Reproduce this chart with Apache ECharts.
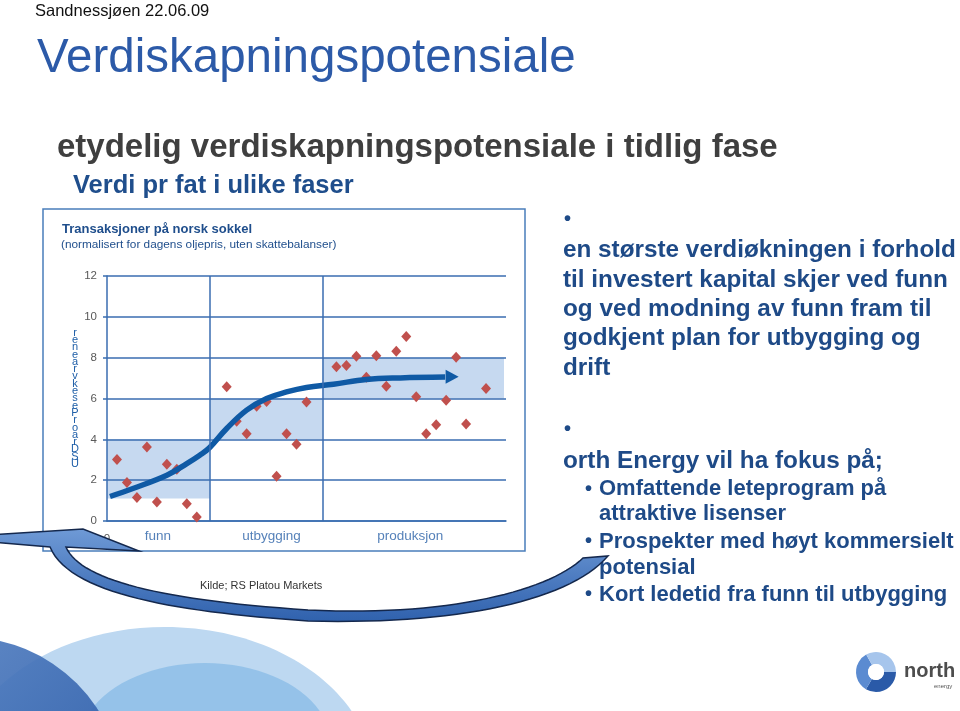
<!DOCTYPE html>
<html>
<head>
<meta charset="utf-8">
<script src="https://cdn.jsdelivr.net/npm/echarts@6/dist/echarts.min.js"></script>
<style>
  html, body { margin: 0; padding: 0; background: #ffffff; }
  #chart { width: 960px; height: 711px; }
</style>
</head>
<body>
<div id="chart"></div>
<script>
// ---- data ----
const categories = ['funn', 'utbygging', 'produksjon'];
const categoryLabelX = [5.1, 16.5, 30.4];
const phaseBounds = [0, 10.3, 21.6, 39.8];
const bandLow = [1.1, 4, 6];
const bandHigh = [4, 6, 8];
const transX = [1, 2, 3, 4, 5, 6, 7, 8, 9, 12, 13, 14, 15, 16, 17, 18, 19, 20, 23, 24, 25, 26, 27, 28, 29, 30, 31, 32, 33, 34, 35, 36, 38];
const transY = [3.01, 1.88, 1.15, 3.63, 0.93, 2.78, 2.53, 0.85, 0.2, 6.57, 4.89, 4.27, 5.62, 5.85, 2.19, 4.27, 3.76, 5.83, 7.55, 7.62, 8.07, 7.04, 8.1, 6.6, 8.32, 9.04, 6.08, 4.27, 4.71, 5.92, 8.02, 4.75, 6.49];
const curveX = [0.3, 2.6, 6, 8, 9.3, 10.3, 12, 14, 16, 18, 20, 22.7, 26, 29.4, 33.9];
const curveY = [1.2, 1.59, 2.24, 2.81, 3.22, 3.6, 4.53, 5.43, 6.0, 6.32, 6.54, 6.7, 6.93, 7.01, 7.05];
const arrowHead = [34.6, 7.06];
const yMin = 0, yMax = 12, yStep = 2;
const xMin = 0, xMax = 40;
const yAxisNameGlyphs = ['r','e','n','e','a','r','v','k','e','s','e','P','r','o','a','r','D','S','U'];

const FONT = '"Liberation Sans", Arial, sans-serif';
const GRID = '#3a6db0';

const chart = echarts.init(document.getElementById('chart'), null, { renderer: 'canvas' });

function txt(x, y, text, size, color, weight, align, z) {
  return {
    type: 'text', x: x, y: y, z: z || 10,
    style: {
      text: text, fill: color,
      font: (weight || 'normal') + ' ' + size + 'px ' + FONT,
      textAlign: align || 'left', textVerticalAlign: 'middle', verticalAlign: 'middle'
    }
  };
}

// sample a cubic bezier into points (decorative shape outline)
function cubic(p0, p1, p2, p3, n) {
  const pts = [];
  for (let i = 1; i <= n; i++) {
    const t = i / n, u = 1 - t;
    pts.push([
      u * u * u * p0[0] + 3 * u * u * t * p1[0] + 3 * u * t * t * p2[0] + t * t * t * p3[0],
      u * u * u * p0[1] + 3 * u * u * t * p1[1] + 3 * u * t * t * p2[1] + t * t * t * p3[1]
    ]);
  }
  return pts;
}
const arrowPts = [[-57, 538], [83, 529], [139, 551], [66, 547]]
  .concat(cubic([66, 547], [80, 580], [160, 600], [308, 610], 30))
  .concat(cubic([308, 610], [450, 617], [550, 590], [583, 558], 30))
  .concat([[608, 556]])
  .concat(cubic([608, 556], [570, 600], [460, 625], [308, 621], 30))
  .concat(cubic([308, 621], [180, 612], [70, 595], [50, 547], 30));

const bandAreas = categories.map((c, i) => [
  { xAxis: phaseBounds[i], yAxis: bandLow[i] },
  { xAxis: phaseBounds[i + 1], yAxis: bandHigh[i] }
]);

const option = {
  backgroundColor: '#ffffff',
  animation: false,
  grid: { left: 107, top: 276, width: 399, height: 245 },
  xAxis: {
    type: 'value', min: xMin, max: xMax, interval: 10, z: 2,
    axisLine: { show: true, lineStyle: { color: GRID, width: 1.5 } },
    axisTick: { show: false },
    splitLine: { show: false },
    axisLabel: { formatter: v => (v === 0 ? '0' : ''), color: '#595959', fontSize: 11.5, fontFamily: FONT, margin: 12 }
  },
  yAxis: {
    type: 'value', min: yMin, max: yMax, interval: yStep, z: 2,
    axisLine: { show: true, lineStyle: { color: GRID, width: 1.5 } },
    axisTick: { show: true, length: 4, lineStyle: { color: GRID, width: 1.5 } },
    splitLine: { show: true, lineStyle: { color: GRID, width: 1.5 } },
    axisLabel: { color: '#595959', fontSize: 11.5, fontFamily: FONT, margin: 10 }
  },
  series: [
    {
      name: 'bands', type: 'scatter', data: [], z: 1, silent: true,
      markArea: { silent: true, itemStyle: { color: '#c6d9f0', opacity: 1 }, data: bandAreas }
    },
    {
      name: 'phaseLines', type: 'line', data: [], z: 2, silent: true,
      markLine: {
        silent: true, symbol: ['none', 'none'], label: { show: false },
        lineStyle: { color: GRID, width: 1.5, type: 'solid' },
        data: phaseBounds.slice(1, 3).map(v => ({ xAxis: v }))
      }
    },
    {
      name: 'Transaksjoner', type: 'scatter', z: 3,
      symbol: 'diamond', symbolSize: [10, 11],
      itemStyle: { color: '#c0504d', opacity: 1 },
      data: transX.map((x, i) => [x, transY[i]])
    },
    {
      name: 'trend', type: 'line', z: 4, smooth: 0.4, showSymbol: false,
      lineStyle: { color: '#0f5aa5', width: 5.5 },
      data: curveX.map((x, i) => [x, curveY[i]])
    },
    {
      name: 'trendHead', type: 'scatter', z: 4,
      symbol: 'triangle', symbolRotate: -90, symbolSize: [14, 13],
      itemStyle: { color: '#0f5aa5', opacity: 1 },
      data: [arrowHead]
    },
    {
      name: 'phaseLabels', type: 'scatter', z: 5, clip: false, silent: true,
      symbolSize: 0,
      data: categoryLabelX.map((x, i) => ({ value: [x, yMin], name: categories[i] })),
      label: {
        show: true, position: 'bottom', distance: 8,
        formatter: p => p.name, color: '#2a62a8', fontSize: 13.5, fontFamily: FONT
      }
    }
  ],
  graphic: [
    // decorative waves bottom-left
    { type: 'ellipse', z: 1, shape: { cx: 165, cy: 780, rx: 209, ry: 153 }, style: { fill: '#bdd8f1' } },
    { type: 'ellipse', z: 2, shape: { cx: 205, cy: 745, rx: 126, ry: 82 }, style: { fill: '#90c0e8', opacity: 0.9 } },
    { type: 'circle', z: 3, shape: { cx: -35, cy: 795, r: 158 },
      style: { fill: new echarts.graphic.LinearGradient(0, 0, 1, 1, [{ offset: 0, color: '#5f8ccb' }, { offset: 1, color: '#1d4c9c' }]), opacity: 0.92 } },

    // header texts
    txt(35, 11, 'Sandnessjøen 22.06.09', 16.5, '#111111'),
    txt(37, 58.5, 'Verdiskapningspotensiale', 47.5, '#2c5aa8'),
    txt(57, 147.5, 'etydelig verdiskapningspotensiale i tidlig fase', 33, '#3f3f3f', 'bold'),
    txt(73, 186, 'Verdi pr fat i ulike faser', 25.5, '#1f4e8c', 'bold'),

    // chart frame and captions
    { type: 'rect', z: 5, shape: { x: 43, y: 209, width: 482, height: 342 },
      style: { fill: 'none', stroke: '#4a7ebb', lineWidth: 1.5 } },
    txt(62, 229.7, 'Transaksjoner på norsk sokkel', 13, '#1f4e8c', 'bold'),
    txt(61, 244.3, '(normalisert for dagens oljepris, uten skattebalanser)', 11.8, '#1f4e8c'),
    {
      type: 'text', x: 75, y: 329, z: 10,
      style: {
        text: yAxisNameGlyphs.join('\n'), fill: '#1f5fa8',
        font: '11px ' + FONT, lineHeight: 7.3,
        textAlign: 'center', textVerticalAlign: 'top', verticalAlign: 'top'
      }
    },
    txt(200, 585.5, 'Kilde; RS Platou Markets', 11, '#333333'),

    // right text block
    txt(564, 219, '•', 20, '#1e4a87', 'bold'),
    txt(563, 249.9, 'en største verdiøkningen i forhold', 24.3, '#1e4a87', 'bold'),
    txt(563, 279.9, 'til investert kapital skjer ved funn', 24.3, '#1e4a87', 'bold'),
    txt(563, 309.3, 'og ved modning av funn fram til', 24.3, '#1e4a87', 'bold'),
    txt(563, 338.8, 'godkjent plan for utbygging og', 24.3, '#1e4a87', 'bold'),
    txt(563, 368.2, 'drift', 24.3, '#1e4a87', 'bold'),
    txt(564, 429, '•', 20, '#1e4a87', 'bold'),
    txt(563, 461.4, 'orth Energy vil ha fokus på;', 24.3, '#1e4a87', 'bold'),
    txt(585, 489.4, '•', 20, '#1e4a87', 'bold'),
    txt(599, 489.4, 'Omfattende leteprogram på', 22, '#1e4a87', 'bold'),
    txt(599, 514, 'attraktive lisenser', 22, '#1e4a87', 'bold'),
    txt(585, 541.5, '•', 20, '#1e4a87', 'bold'),
    txt(599, 541.5, 'Prospekter med høyt kommersielt', 22, '#1e4a87', 'bold'),
    txt(599, 567.5, 'potensial', 22, '#1e4a87', 'bold'),
    txt(585, 594.5, '•', 20, '#1e4a87', 'bold'),
    txt(599, 594.5, 'Kort ledetid fra funn til utbygging', 22, '#1e4a87', 'bold'),

    // big curved arrow
    { type: 'polygon', z: 50, shape: { points: arrowPts },
      style: { fill: new echarts.graphic.LinearGradient(0, 0, 0, 1, [{ offset: 0, color: '#6f9ad6' }, { offset: 1, color: '#2f61ad' }]),
               stroke: '#14284d', lineWidth: 1.5 } },

    // logo
    { type: 'sector', z: 20, shape: { cx: 876, cy: 672, r0: 8, r: 20, startAngle: 0, endAngle: 2.1 }, style: { fill: '#2a5aa8' } },
    { type: 'sector', z: 20, shape: { cx: 876, cy: 672, r0: 8, r: 20, startAngle: 2.1, endAngle: 4.2 }, style: { fill: '#5b8bd1' } },
    { type: 'sector', z: 20, shape: { cx: 876, cy: 672, r0: 8, r: 20, startAngle: 4.2, endAngle: 6.2832 }, style: { fill: '#a6c5ec' } },
    { type: 'circle', z: 21, shape: { cx: 876, cy: 672, r: 8 }, style: { fill: '#ffffff' } },
    txt(904, 671, 'north', 20, '#4d4d4d', 'bold'),
    txt(934, 686, 'energy', 6, '#555555')
  ]
};

chart.setOption(option);
</script>
</body>
</html>
